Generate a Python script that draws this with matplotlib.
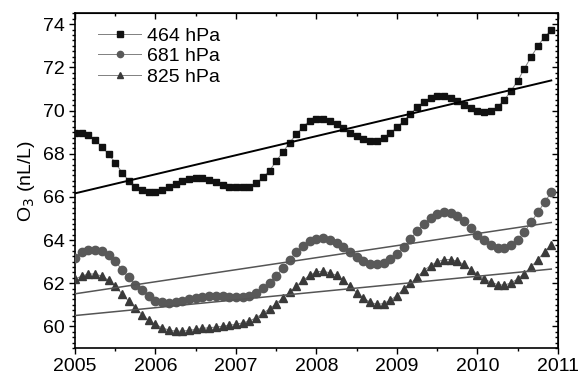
import numpy as np
import matplotlib.pyplot as plt
from matplotlib.ticker import MultipleLocator

# ============================================================
# monthly means, Jan 2005 .. Dec 2010
START_YEAR = 2005

O3_464 = [68.95, 68.98, 68.87, 68.64, 68.33, 67.98, 67.59, 67.13, 66.76, 66.48, 66.30, 66.22,
          66.22, 66.30, 66.45, 66.61, 66.73, 66.82, 66.87, 66.87, 66.79, 66.67, 66.56, 66.48,
          66.45, 66.44, 66.48, 66.64, 66.90, 67.21, 67.67, 68.07, 68.52, 68.90, 69.26, 69.52,
          69.61, 69.61, 69.53, 69.38, 69.18, 68.95, 68.80, 68.67, 68.61, 68.61, 68.72, 68.95,
          69.23, 69.52, 69.84, 70.15, 70.41, 70.60, 70.69, 70.69, 70.57, 70.44, 70.26, 70.10,
          69.98, 69.92, 70.00, 70.18, 70.49, 70.92, 71.38, 71.95, 72.49, 72.99, 73.42, 73.72]

O3_681 = [63.17, 63.44, 63.53, 63.56, 63.48, 63.30, 63.02, 62.63, 62.28, 61.94, 61.68, 61.40,
          61.20, 61.12, 61.09, 61.12, 61.17, 61.25, 61.32, 61.37, 61.40, 61.40, 61.39, 61.37,
          61.37, 61.37, 61.43, 61.56, 61.79, 62.02, 62.33, 62.71, 63.10, 63.44, 63.74, 63.94,
          64.05, 64.08, 64.02, 63.87, 63.67, 63.44, 63.20, 63.02, 62.91, 62.87, 62.94, 63.13,
          63.37, 63.68, 64.05, 64.41, 64.74, 65.02, 65.21, 65.28, 65.25, 65.10, 64.87, 64.56,
          64.25, 63.99, 63.79, 63.63, 63.63, 63.79, 64.02, 64.37, 64.84, 65.28, 65.76, 66.21]

O3_825 = [62.20, 62.33, 62.43, 62.43, 62.33, 62.14, 61.86, 61.52, 61.17, 60.86, 60.55, 60.28,
          60.09, 59.94, 59.83, 59.78, 59.78, 59.82, 59.86, 59.91, 59.94, 59.97, 60.01, 60.06,
          60.09, 60.17, 60.25, 60.40, 60.60, 60.82, 61.05, 61.32, 61.59, 61.86, 62.14, 62.37,
          62.53, 62.56, 62.48, 62.36, 62.14, 61.86, 61.56, 61.32, 61.12, 61.02, 61.06, 61.22,
          61.43, 61.74, 61.99, 62.28, 62.59, 62.82, 62.99, 63.10, 63.10, 63.02, 62.87, 62.63,
          62.40, 62.20, 62.05, 61.94, 61.91, 62.02, 62.20, 62.45, 62.76, 63.10, 63.45, 63.79]

LABELS = ["464 hPa", "681 hPa", "825 hPa"]

# ============================================================
plt.rcParams['font.family'] = ['Liberation Sans', 'DejaVu Sans']

series = [
    (O3_464, 's', '#111111', '#000000', 1.4, 5.0),
    (O3_681, 'o', '#595959', '#555555', 1.1, 6.0),
    (O3_825, '^', '#3a3a3a', '#555555', 1.1, 6.0),
]

fig = plt.figure(figsize=(5.79, 3.74), dpi=100)
ax = fig.add_axes([0.1295, 0.0695, 0.8342, 0.8945])

x = START_YEAR + np.arange(len(O3_464)) / 12.0
for (y, mk, col, tcol, tlw, ms), lab in zip(series, LABELS):
    ax.plot(x, y, color='#808080', lw=0.7, marker=mk, ms=ms,
            mfc=col, mec=col, label=lab, zorder=3)
    # линейный тренд
    k, b = np.polyfit(x, y, 1)
    ax.plot(x[[0, -1]], k * x[[0, -1]] + b, color=tcol, lw=tlw, zorder=4)

ax.set_xlim(2005, 2011)
ax.set_ylim(59, 74.5)
ax.xaxis.set_major_locator(MultipleLocator(1))
ax.xaxis.set_minor_locator(MultipleLocator(0.5))
ax.yaxis.set_major_locator(MultipleLocator(2))
ax.yaxis.set_minor_locator(MultipleLocator(0.25))
ax.tick_params(which='both', direction='out', top=False, right=False, labelsize=14, width=1)
ax.tick_params(which='major', length=4)
ax.tick_params(which='minor', length=2)
ax2 = ax.secondary_xaxis('top')
ax2.xaxis.set_major_locator(MultipleLocator(1))
ax2.xaxis.set_minor_locator(MultipleLocator(0.5))
ax2.tick_params(which='both', direction='in', labeltop=False, width=1)
ax2.tick_params(which='major', length=4)
ax2.tick_params(which='minor', length=2)
ay2 = ax.secondary_yaxis('right')
ay2.yaxis.set_major_locator(MultipleLocator(2))
ay2.yaxis.set_minor_locator(MultipleLocator(0.25))
ay2.tick_params(which='both', direction='in', labelright=False, width=1)
ay2.tick_params(which='major', length=4)
ay2.tick_params(which='minor', length=2)
for s in ax.spines.values():
    s.set_linewidth(1.2)

ax.set_ylabel("O$_3$ (nL/L)", fontsize=14, labelpad=4)
ax.legend(loc='upper left', frameon=False, fontsize=14, handlelength=2.2,
          handletextpad=0.3, labelspacing=0.15, borderaxespad=0.3,
          bbox_to_anchor=(0.02, 1.0), markerscale=0.75)

fig.savefig("out.png", dpi=100)
